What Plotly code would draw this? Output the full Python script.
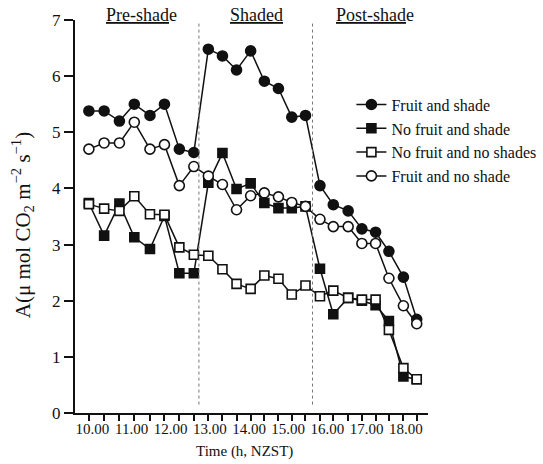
import plotly.graph_objects as go

times = [9.91, 10.30, 10.69, 11.07, 11.47, 11.84, 12.22, 12.59,
         12.96, 13.32, 13.68, 14.04, 14.39, 14.75, 15.09, 15.44,
         15.81, 16.15, 16.53, 16.88, 17.23, 17.57, 17.94, 18.28]

fruit_shade = [5.38, 5.38, 5.20, 5.50, 5.30, 5.50, 4.70, 4.64,
               6.48, 6.36, 6.11, 6.45, 5.91, 5.78, 5.27, 5.30,
               4.05, 3.71, 3.60, 3.28, 3.22, 2.88, 2.42, 1.67]

nofruit_shade = [3.74, 3.16, 3.73, 3.13, 2.92, 3.51, 2.49, 2.49,
                 4.10, 4.63, 3.99, 4.09, 3.74, 3.65, 3.65, 3.68,
                 2.57, 1.76, 2.05, 2.00, 1.92, 1.64, 0.65, 0.60]

nofruit_noshade = [3.72, 3.64, 3.60, 3.86, 3.54, 3.53, 2.95, 2.82,
                   2.80, 2.56, 2.30, 2.21, 2.45, 2.39, 2.11, 2.27,
                   2.08, 2.18, 2.05, 2.02, 2.02, 1.48, 0.80, 0.60]

fruit_noshade = [4.70, 4.81, 4.81, 5.18, 4.70, 4.78, 4.05, 4.39,
                 4.22, 4.07, 3.62, 3.87, 3.92, 3.85, 3.75, 3.68,
                 3.45, 3.32, 3.32, 3.02, 3.02, 2.40, 1.91, 1.59]

hour_ticks = [10, 11, 12, 13, 14, 15, 16, 17, 18]
hour_labels = ["10.00", "11.00", "12.00", "13.00", "14.00", "15.00", "16.00", "17.00", "18.00"]
y_ticks = [0, 1, 2, 3, 4, 5, 6, 7]

shade_bounds = [12.72, 15.62]
period_names = ["<u>Pre-shad</u>e", "<u>Shaded</u>", "<u>Post-shad</u>e"]
period_centers = [11.26, 14.20, 17.22]

FONT = "Liberation Serif, Times New Roman, serif"
INK = "#111111"

fig = go.Figure()

series = [
    ("Fruit and shade", fruit_shade, "circle", INK, 10),
    ("No fruit and shade", nofruit_shade, "square", INK, 9),
    ("No fruit and no shades", nofruit_noshade, "square", "white", 9),
    ("Fruit and no shade", fruit_noshade, "circle", "white", 10),
]
for name, ys, sym, fill, size in series:
    fig.add_trace(go.Scatter(
        x=times, y=ys, name=name, mode="lines+markers",
        line=dict(color=INK, width=1.5),
        marker=dict(symbol=sym, size=size, color=fill,
                    line=dict(color=INK, width=1.6)),
    ))

for xb in shade_bounds:
    fig.add_shape(type="line", xref="x", yref="y", x0=xb, x1=xb, y0=0.15, y1=6.95,
                  line=dict(color="#777777", width=1, dash="dot"))

for name, xc in zip(period_names, period_centers):
    fig.add_annotation(x=xc, y=1.013, xref="x", yref="paper", text=name,
                       showarrow=False, font=dict(family=FONT, size=18, color=INK),
                       xanchor="center", yanchor="middle")

fig.add_annotation(x=-0.15, y=0.478, xref="paper", yref="paper", textangle=-90,
                   text="A(μ mol CO<sub>2</sub> m<sup>−2</sup> s<sup>−1</sup>)",
                   showarrow=False, font=dict(family=FONT, size=21, color=INK),
                   xanchor="center", yanchor="middle")
fig.add_annotation(x=0.48, y=-0.099, xref="paper", yref="paper",
                   text="Time (h, NZST)", showarrow=False,
                   font=dict(family=FONT, size=15, color=INK),
                   xanchor="center", yanchor="middle")

fig.update_layout(
    width=543, height=464, autosize=False,
    margin=dict(l=75, r=115, t=20, b=51, autoexpand=False),
    paper_bgcolor="white", plot_bgcolor="white",
    font=dict(family=FONT, color=INK, size=15),
    showlegend=True,
    legend=dict(x=0.783, y=0.828, xanchor="left", yanchor="top",
                bgcolor="rgba(0,0,0,0)", font=dict(family=FONT, size=16, color=INK),
                tracegroupgap=0, itemwidth=30),
    xaxis=dict(range=[9.556, 18.568], showgrid=False, zeroline=False,
               showline=True, linecolor=INK, linewidth=2,
               tickmode="array", tickvals=hour_ticks, ticktext=hour_labels,
               ticks="", ticklabelstandoff=1,
               tickfont=dict(family=FONT, size=15, color=INK),
               minor=dict(tickmode="array", tickvals=times, ticks="outside",
                          ticklen=6, tickwidth=1.5, tickcolor=INK, showgrid=False)),
    yaxis=dict(range=[0, 7], showgrid=False, zeroline=False,
               showline=True, linecolor=INK, linewidth=2,
               tickmode="array", tickvals=y_ticks, ticks="outside",
               ticklen=9, tickwidth=2, tickcolor=INK,
               tickfont=dict(family=FONT, size=17, color=INK)),
)

fig.write_html("out.html")
